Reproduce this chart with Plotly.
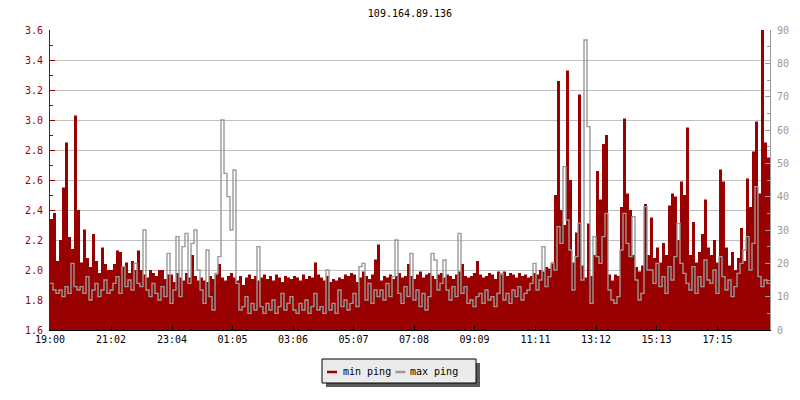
import plotly.graph_objects as go

title_text = "109.164.89.136"
tick_labels = ["19:00", "21:02", "23:04", "01:05", "03:06", "05:07",
               "07:08", "09:09", "11:11", "13:12", "15:13", "17:15"]
series_names = ["min ping", "max ping"]
start_hour = 19
bin_minutes = 6          # one value every 6 minutes, 24 hours
span_minutes = 1440

# min ping (left axis, ms) - 10 values per hour, starting 19:00
min_ping = [
    2.34, 2.38, 2.06, 2.20, 2.55, 2.85, 2.22, 2.14, 3.03, 2.40,
    2.05, 2.27, 2.08, 2.02, 2.24, 2.06, 1.98, 2.15, 2.04, 2.00,
    2.00, 2.04, 2.13, 2.12, 2.02, 2.05, 1.98, 2.06, 2.00, 2.13,
    2.00, 1.97, 1.95, 2.00, 1.98, 1.96, 2.00, 2.00, 1.94, 1.97,
    1.97, 1.92, 1.98, 1.95, 1.93, 1.98, 1.95, 2.10, 1.96, 1.93,
    1.95, 1.93, 1.92, 1.96, 1.94, 1.97, 2.04, 1.95, 1.93, 1.96,
    1.98, 1.95, 1.93, 1.96, 1.90, 1.95, 1.97, 1.94, 1.96, 1.93,
    1.95, 1.97, 1.94, 1.96, 1.93, 1.97, 1.95, 1.92, 1.96, 1.95,
    1.94, 1.96, 1.95, 1.93, 1.97, 1.94, 1.96, 1.95, 2.05, 1.97,
    1.95, 1.93, 1.96, 1.92, 1.94, 1.93, 1.95, 1.94, 1.97, 1.96,
    1.98, 1.97, 1.92, 1.95, 1.99, 1.96, 1.94, 1.97, 2.07, 2.17,
    1.93, 1.96, 1.95, 1.97, 1.94, 1.96, 1.98, 1.95, 1.96, 2.04,
    1.96, 1.94, 1.97, 1.99, 1.95, 1.97, 1.98, 1.96, 1.94, 1.97,
    1.98, 1.95, 1.97, 1.96, 1.94, 1.97, 1.99, 2.04, 1.96, 1.95,
    1.96, 1.98, 2.06, 1.97, 1.95, 1.96, 1.98, 1.97, 1.94, 1.99,
    1.97, 1.99, 1.96, 1.98, 1.97, 1.95, 1.98, 1.96, 1.97, 1.95,
    1.96, 1.98, 1.97, 2.00, 1.99, 2.02, 2.01, 2.05, 2.50, 3.26,
    2.40, 2.30, 3.33, 2.60, 2.05, 2.25, 3.17, 2.03, 1.95, 2.31,
    1.96, 2.10, 2.66, 2.47, 2.84, 2.90, 1.97, 1.93, 1.97, 1.96,
    2.42, 3.01, 2.51, 2.40, 2.10, 2.02, 1.99, 2.03, 2.44, 2.10,
    2.35, 2.08, 2.15, 2.05, 2.18, 2.10, 2.43, 2.51, 2.49, 2.20,
    2.59, 2.50, 2.95, 2.10, 2.32, 2.05, 2.12, 2.24, 2.47, 2.15,
    2.10, 2.20, 2.05, 2.67, 2.59, 2.15, 2.03, 2.12, 2.00, 2.08,
    2.28, 2.06, 2.61, 2.42, 2.79, 2.99, 2.51, 3.62, 2.85, 2.75,
]

# max ping (right axis, ms)
max_ping = [
    14, 12, 11, 12, 10, 13, 11, 20, 13, 12,
    13, 11, 16, 9, 12, 14, 10, 12, 15, 11,
    12, 14, 16, 11, 19, 13, 15, 12, 20, 14,
    13, 30, 12, 10, 14, 11, 9, 13, 10, 23,
    8, 12, 28, 10, 25, 29, 14, 26, 30, 18,
    12, 8, 24, 10, 6, 17, 22, 63, 47, 40,
    30, 48, 14, 6, 7, 10, 5, 8, 6, 25,
    7, 5, 8, 6, 9, 5, 7, 11, 6, 8,
    10, 6, 5, 8, 6, 9, 5, 7, 11, 6,
    7, 5, 18, 6, 8, 5, 12, 7, 9, 6,
    8, 11, 7, 19, 20, 9, 14, 8, 12, 10,
    12, 9, 14, 10, 16, 27, 11, 8, 13, 10,
    23, 9, 12, 7, 11, 6, 10, 23, 21, 12,
    14, 21, 12, 9, 13, 10, 29, 11, 13, 8,
    9, 7, 10, 11, 8, 12, 9, 10, 7, 11,
    17, 9, 11, 8, 12, 10, 13, 9, 11, 12,
    14, 20, 12, 15, 25, 13, 16, 20, 18, 31,
    26, 49, 33, 24, 12, 22, 32, 15, 87, 61,
    8, 28, 22, 20, 28, 35, 12, 9, 8, 10,
    24, 35, 26, 22, 34, 15, 9, 11, 37, 18,
    18, 14, 20, 13, 16, 11, 19, 15, 22, 32,
    20, 17, 14, 12, 19, 11, 16, 13, 21, 15,
    14, 18, 11, 22, 16, 12, 15, 10, 13, 17,
    20, 24, 28, 18, 26, 43, 16, 13, 15, 14,
]

RED = "#990000"
GRAY = "#999999"
FONT = "DejaVu Sans Mono"

# x positions in minutes since start (step shape, closing the last bin)
x = [i * bin_minutes for i in range(len(min_ping))] + [span_minutes]
y_min = min_ping + [min_ping[-1]]
y_max = max_ping + [max_ping[-1]]


def label_to_minutes(lbl):
    h, m = map(int, lbl.split(":"))
    return (h * 60 + m - start_hour * 60) % span_minutes


tick_vals = [label_to_minutes(t) for t in tick_labels]

fig = go.Figure()
fig.add_trace(go.Scatter(
    x=x, y=y_min, name=series_names[0], mode="lines",
    line=dict(color=RED, width=0, shape="hv"),
    fill="tozeroy", fillcolor=RED, showlegend=False,
))
fig.add_trace(go.Scatter(
    x=x, y=y_max, name=series_names[1], mode="lines", yaxis="y2",
    line=dict(color=GRAY, width=1.4, shape="hv"), showlegend=False,
))

# page body has an 8px default margin; lay out in page pixels
OFF = 8
W, H = 800, 400
PL, PR, PT, PB = 50, 770, 30, 330          # plot area on the page
ML, MT = PL - OFF, PT - OFF
MR, MB = W - (PR - OFF), H - (PB - OFF)
PW, PH = PR - PL, PB - PT


def px(xp):
    return (xp - PL) / PW


def py(yp):
    return (PB - yp) / PH


shapes = [
    # legend shadow and box
    dict(type="rect", xref="paper", yref="paper",
         x0=px(326), x1=px(480), y0=py(387), y1=py(363),
         fillcolor="#5a5a5a", line=dict(width=0), layer="above"),
    dict(type="rect", xref="paper", yref="paper",
         x0=px(322), x1=px(476), y0=py(383), y1=py(359),
         fillcolor="#ebebeb", line=dict(color="black", width=1), layer="above"),
    dict(type="line", xref="paper", yref="paper",
         x0=px(327), x1=px(337), y0=py(372), y1=py(372),
         line=dict(color=RED, width=2.5), layer="above"),
    dict(type="line", xref="paper", yref="paper",
         x0=px(395.5), x1=px(405.5), y0=py(372), y1=py(372),
         line=dict(color=GRAY, width=2.5), layer="above"),
]
annotations = [
    dict(text=series_names[0], xref="paper", yref="paper", x=px(340.5), y=py(371),
         xanchor="left", yanchor="middle", showarrow=False,
         font=dict(family=FONT, size=10, color="black")),
    dict(text=series_names[1], xref="paper", yref="paper", x=px(408), y=py(371),
         xanchor="left", yanchor="middle", showarrow=False,
         font=dict(family=FONT, size=10, color="black")),
]

fig.update_layout(
    width=W, height=H,
    margin=dict(l=ML, r=MR, t=MT, b=MB, autoexpand=False),
    paper_bgcolor="white", plot_bgcolor="white",
    title=dict(text=title_text, x=0.5, xref="paper", y=1 - (13 - OFF) / H,
               yref="container", xanchor="center", yanchor="middle",
               automargin=False,
               font=dict(family=FONT, size=10, color="black")),
    font=dict(family=FONT, size=10),
    showlegend=False,
    xaxis=dict(range=[0, span_minutes], tickvals=tick_vals, ticktext=tick_labels,
               ticks="inside", ticklen=4, tickcolor="black", tickwidth=1,
               showline=True, linecolor="black", linewidth=1, automargin=False,
               showgrid=False, zeroline=False,
               tickfont=dict(family=FONT, size=10, color="black")),
    yaxis=dict(range=[1.6, 3.6], tick0=1.6, dtick=0.2, tickformat=".1f",
               ticks="inside", ticklen=5, tickcolor=RED, tickwidth=1,
               minor=dict(ticks="inside", ticklen=3, dtick=0.1, tick0=1.6,
                          tickcolor=RED, showgrid=False),
               showline=True, linecolor=RED, linewidth=1, automargin=False,
               showgrid=True, gridcolor="#c0c0c0", gridwidth=1, zeroline=False,
               ticklabelstandoff=4,
               tickfont=dict(family=FONT, size=10, color=RED)),
    yaxis2=dict(range=[0, 90], tick0=0, dtick=10, overlaying="y", side="right",
                ticks="inside", ticklen=5, tickcolor=GRAY, tickwidth=1,
                minor=dict(ticks="inside", ticklen=3, dtick=5, tickcolor=GRAY,
                           showgrid=False),
                showline=True, linecolor=GRAY, linewidth=1, automargin=False,
                showgrid=False, zeroline=False, ticklabelstandoff=4,
                tickfont=dict(family=FONT, size=10, color=GRAY)),
    shapes=shapes,
    annotations=annotations,
)

fig.write_html("out.html")
